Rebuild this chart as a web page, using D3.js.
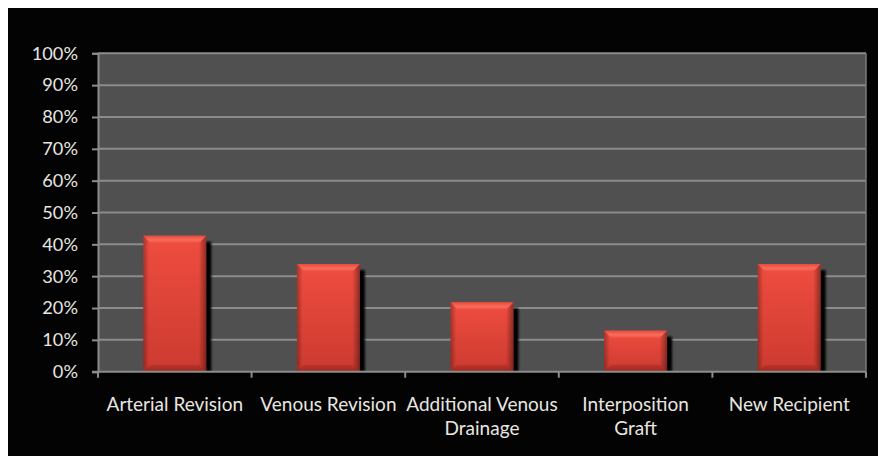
<!DOCTYPE html>
<html>
<head>
<meta charset="utf-8">
<script src="https://cdn.jsdelivr.net/npm/d3@7"></script>
<style>
html,body{margin:0;padding:0;background:#ffffff;}
svg{display:block;}
text{font-family:Lato,"Open Sans",sans-serif;}
</style>
</head>
<body>
<svg id="chart" width="878" height="456"></svg>
<script>
const categories = ["Arterial Revision", "Venous Revision", "Additional Venous\nDrainage", "Interposition\nGraft", "New Recipient"];
const values = [0.427, 0.338, 0.218, 0.129, 0.338];
const yTicks = [0, 0.1, 0.2, 0.3, 0.4, 0.5, 0.6, 0.7, 0.8, 0.9, 1.0];

const svg = d3.select("#chart");
const W = 878, H = 456;
const plotL = 98, plotR = 866, plotT = 53.3, plotB = 371.7;

svg.append("rect").attr("x", 8).attr("y", 8).attr("width", W - 8).attr("height", H - 8).attr("fill", "#030303");

const defs = svg.append("defs");
const body = defs.append("linearGradient").attr("id", "body").attr("x1", 0).attr("y1", 0).attr("x2", 0).attr("y2", 1);
body.append("stop").attr("offset", "0%").attr("stop-color", "#ef4d3f");
body.append("stop").attr("offset", "100%").attr("stop-color", "#cc3a30");
const sides = defs.append("linearGradient").attr("id", "sides").attr("x1", 0).attr("y1", 0).attr("x2", 1).attr("y2", 0);
sides.append("stop").attr("offset", "0%").attr("stop-color", "#000").attr("stop-opacity", 0.3);
sides.append("stop").attr("offset", "9%").attr("stop-color", "#000").attr("stop-opacity", 0.0);
sides.append("stop").attr("offset", "88%").attr("stop-color", "#000").attr("stop-opacity", 0.0);
sides.append("stop").attr("offset", "100%").attr("stop-color", "#000").attr("stop-opacity", 0.4);
const topBev = defs.append("linearGradient").attr("id", "topbev").attr("x1", 0).attr("y1", 0).attr("x2", 0).attr("y2", 1);
topBev.append("stop").attr("offset", "0%").attr("stop-color", "#e84a3c");
topBev.append("stop").attr("offset", "60%").attr("stop-color", "#f76d5d");
topBev.append("stop").attr("offset", "100%").attr("stop-color", "#f05444");
const botBev = defs.append("linearGradient").attr("id", "botbev").attr("x1", 0).attr("y1", 0).attr("x2", 0).attr("y2", 1);
botBev.append("stop").attr("offset", "0%").attr("stop-color", "#bb332a");
botBev.append("stop").attr("offset", "100%").attr("stop-color", "#92251e");
const blur = defs.append("filter").attr("id", "blur").attr("x", "-20%").attr("y", "-20%").attr("width", "140%").attr("height", "140%");
blur.append("feGaussianBlur").attr("stdDeviation", 1.2);

const x = d3.scaleBand().domain(categories).range([plotL, plotR]).paddingInner(0.59).paddingOuter(0.295);
const y = d3.scaleLinear().domain([0, 1]).range([plotB, plotT]);

// plot area
svg.append("rect").attr("x", plotL).attr("y", plotT).attr("width", plotR - plotL).attr("height", plotB - plotT).attr("fill", "#505050");

// gridlines
svg.append("g").selectAll("line").data(yTicks.filter(d => d > 0)).join("line")
  .attr("x1", plotL).attr("x2", plotR)
  .attr("y1", d => y(d)).attr("y2", d => y(d))
  .attr("stroke", "#8c8c8c").attr("stroke-width", 2);

// right edge of plot
svg.append("line").attr("x1", plotR).attr("x2", plotR).attr("y1", plotT).attr("y2", plotB)
  .attr("stroke", "#7a7a7a").attr("stroke-width", 1.5);

// y axis
const yAxis = d3.axisLeft(y).tickValues(yTicks).tickFormat(d3.format(".0%")).tickSize(6).tickPadding(14);
const gy = svg.append("g").attr("transform", `translate(${plotL},0)`).call(yAxis);
gy.select(".domain").attr("stroke", "#8c8c8c").attr("stroke-width", 2);
gy.selectAll(".tick line").attr("stroke", "#8c8c8c").attr("stroke-width", 2);
gy.selectAll(".tick text").attr("fill", "#e8e6e0").attr("font-size", 18.2).attr("font-family", "Lato, 'Open Sans', sans-serif");

// bars
const bars = svg.append("g").selectAll("g").data(categories).join("g");
bars.each(function(c, i) {
  const g = d3.select(this);
  const bx = x(c), bw = x.bandwidth(), by = y(values[i]), bh = y(0) - y(values[i]);
  const bev = 7;
  g.append("rect").attr("x", bx + 5).attr("y", by + 6).attr("width", bw).attr("height", bh - 6)
    .attr("fill", "#000").attr("filter", "url(#blur)");
  g.append("rect").attr("x", bx).attr("y", by).attr("width", bw).attr("height", bh).attr("fill", "url(#body)");
  g.append("rect").attr("x", bx).attr("y", by).attr("width", bw).attr("height", bh).attr("fill", "url(#sides)");
  g.append("path").attr("d", `M${bx},${by}L${bx + bw},${by}L${bx + bw - bev},${by + bev}L${bx + bev},${by + bev}Z`)
    .attr("fill", "url(#topbev)");
  g.append("path").attr("d", `M${bx},${by + bh}L${bx + bw},${by + bh}L${bx + bw - bev},${by + bh - bev}L${bx + bev},${by + bh - bev}Z`)
    .attr("fill", "url(#botbev)").attr("opacity", 0.85);
});

// x axis line
svg.append("line").attr("x1", plotL - 6).attr("x2", plotR).attr("y1", plotB).attr("y2", plotB)
  .attr("stroke", "#8c8c8c").attr("stroke-width", 2);

// x boundary ticks
const boundaries = categories.map(c => x(c) - (x.step() - x.bandwidth()) / 2).concat([plotR]);
svg.append("g").selectAll("line").data(boundaries).join("line")
  .attr("x1", d => d).attr("x2", d => d).attr("y1", plotB).attr("y2", plotB + 6)
  .attr("stroke", "#8c8c8c").attr("stroke-width", 2);

// x labels
const xAxis = d3.axisBottom(x).tickSize(0).tickFormat("");
const gx = svg.append("g").attr("transform", `translate(0,${plotB})`).call(xAxis);
gx.select(".domain").remove();
gx.selectAll(".tick").each(function(c) {
  const t = d3.select(this).append("text").attr("fill", "#e8e6e0").attr("font-size", 19)
    .attr("text-anchor", "middle").attr("font-family", "Lato, 'Open Sans', sans-serif");
  c.split("\n").forEach((line, k) => {
    t.append("tspan").attr("x", 0).attr("y", 39 + k * 24).text(line);
  });
});
</script>
</body>
</html>
